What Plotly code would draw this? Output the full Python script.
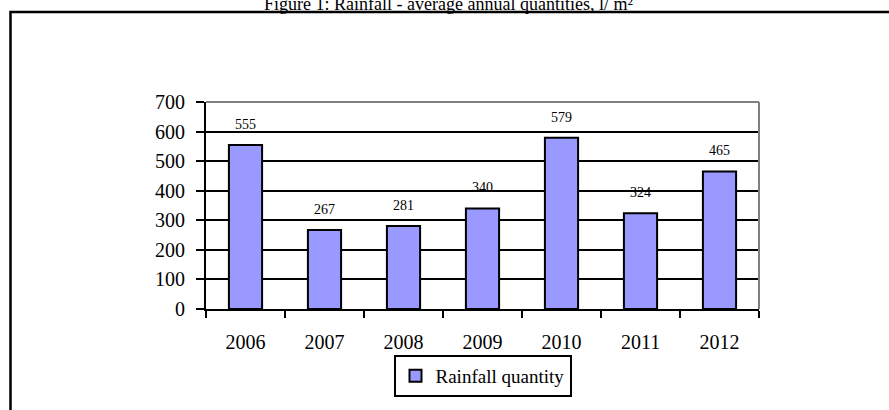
import plotly.graph_objects as go

years = ["2006", "2007", "2008", "2009", "2010", "2011", "2012"]
rainfall = [555, 267, 281, 340, 579, 324, 465]
y_ticks = [0, 100, 200, 300, 400, 500, 600, 700]
title_text = "Figure 1: Rainfall - average annual quantities, l/ m²"
series_name = "Rainfall quantity"

FONT = "Liberation Serif, Times New Roman, serif"

fig = go.Figure()
fig.add_trace(go.Bar(
    x=years, y=rainfall, name=series_name,
    marker=dict(color="#9999FF", line=dict(color="black", width=2)),
    showlegend=True,
))

# data labels (category positions by index)
for i, v in enumerate(rainfall):
    fig.add_annotation(x=i, y=v, text=str(v), showarrow=False,
                       yanchor="bottom", yshift=11,
                       font=dict(family=FONT, size=14, color="black"))

L, R, T, B = 206, 130, 102, 101
W, H = 889, 410
pw, ph = W - L - R, H - T - B

def px2x(px):
    return (px - L) / pw

def py2y(py):
    return (H - B - py) / ph

# title (partly cut off at the top, as in the reference)
fig.add_annotation(xref="paper", yref="paper", x=px2x(448), y=py2y(16),
                   text=title_text, showarrow=False, xanchor="center",
                   yanchor="bottom",
                   font=dict(family=FONT, size=18, color="black"))

# outer frame (open at right/bottom)
fig.add_shape(type="rect", xref="paper", yref="paper",
              x0=px2x(10.5), x1=px2x(900), y0=py2y(12), y1=py2y(420),
              line=dict(color="black", width=2.5), layer="above")
# grey plot-area border top and right
fig.add_shape(type="line", xref="paper", yref="paper", x0=0, x1=1, y0=1, y1=1,
              line=dict(color="#808080", width=2), layer="above")
fig.add_shape(type="line", xref="paper", yref="paper", x0=1, x1=1, y0=0, y1=1,
              line=dict(color="#808080", width=2), layer="above")

fig.update_layout(
    width=W, height=H,
    margin=dict(l=L, r=R, t=T, b=B),
    paper_bgcolor="white", plot_bgcolor="white",
    bargap=0.58,
    font=dict(family=FONT, color="black"),
    legend=dict(orientation="h", x=0.5, xanchor="center", y=py2y(355), yanchor="top",
                bordercolor="black", borderwidth=2, bgcolor="white",
                font=dict(family=FONT, size=19, color="black")),
    xaxis=dict(type="category", showgrid=False, showline=True, linecolor="black",
               linewidth=2, ticks="outside", tickson="boundaries", ticklen=7,
               tickwidth=2, tickcolor="black", ticklabelstandoff=14,
               range=[-0.5, len(years) - 0.5], tickangle=0,
               tickfont=dict(family=FONT, size=20, color="black")),
    yaxis=dict(range=[0, 700], tickvals=y_ticks, showgrid=True, gridcolor="black",
               gridwidth=2, showline=True, linecolor="black", linewidth=2,
               ticks="outside", ticklen=8, tickwidth=2, tickcolor="black",
               zeroline=False, ticklabelstandoff=7,
               tickfont=dict(family=FONT, size=20, color="black")),
)

fig.write_html("out.html", config={"displayModeBar": False},
               post_script="document.body.style.margin='0';document.body.style.overflow='hidden';")
